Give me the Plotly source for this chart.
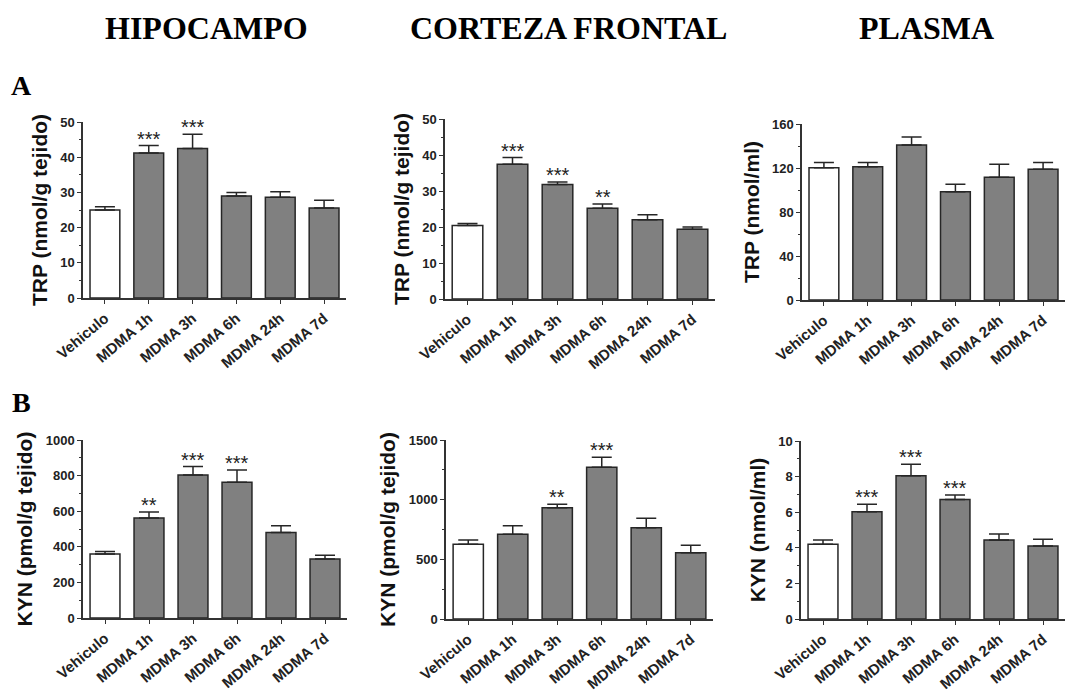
import plotly.graph_objects as go

W, H = 1065, 693

categories = ["Vehiculo", "MDMA 1h", "MDMA 3h", "MDMA 6h", "MDMA 24h", "MDMA 7d"]

hip_trp = [25.0, 41.2, 42.5, 29.0, 28.6, 25.6]
hip_trp_err = [0.9, 2.1, 4.0, 1.0, 1.6, 2.2]
hip_trp_sig = ["", "***", "***", "", "", ""]

cor_trp = [20.4, 37.4, 31.8, 25.2, 22.0, 19.4]
cor_trp_err = [0.6, 1.9, 0.7, 1.2, 1.4, 0.6]
cor_trp_sig = ["", "***", "***", "**", "", ""]

pla_trp = [120.3, 121.2, 140.9, 98.5, 111.6, 118.9]
pla_trp_err = [4.6, 3.7, 7.3, 6.7, 11.8, 6.0]
pla_trp_sig = ["", "", "", "", "", ""]

hip_kyn = [360, 562, 804, 763, 480, 331]
hip_kyn_err = [13, 34, 47, 69, 38, 22]
hip_kyn_sig = ["", "**", "***", "***", "", ""]

cor_kyn = [626, 710, 933, 1271, 765, 556]
cor_kyn_err = [36, 72, 28, 84, 79, 62]
cor_kyn_sig = ["", "", "**", "***", "", ""]

pla_kyn = [4.20, 6.03, 8.05, 6.72, 4.44, 4.10]
pla_kyn_err = [0.24, 0.41, 0.64, 0.25, 0.34, 0.38]
pla_kyn_sig = ["", "***", "***", "***", "", ""]

column_titles = ["HIPOCAMPO", "CORTEZA FRONTAL", "PLASMA"]
row_labels = ["A", "B"]

panels = [
    dict(v=hip_trp, e=hip_trp_err, s=hip_trp_sig, ymax=50, dt=10, mdt=5,
         title="TRP (nmol/g tejido)", xd=(83, 346), yd=(122, 298)),
    dict(v=cor_trp, e=cor_trp_err, s=cor_trp_sig, ymax=50, dt=10, mdt=5,
         title="TRP (nmol/g tejido)", xd=(445, 715), yd=(119, 299)),
    dict(v=pla_trp, e=pla_trp_err, s=pla_trp_sig, ymax=160, dt=40, mdt=20,
         title="TRP (nmol/ml)", xd=(802, 1065), yd=(124, 300)),
    dict(v=hip_kyn, e=hip_kyn_err, s=hip_kyn_sig, ymax=1000, dt=200, mdt=100,
         title="KYN (pmol/g tejido)", xd=(83, 347), yd=(440, 618)),
    dict(v=cor_kyn, e=cor_kyn_err, s=cor_kyn_sig, ymax=1500, dt=500, mdt=250,
         title="KYN (pmol/g tejido)", xd=(446, 713), yd=(440, 619)),
    dict(v=pla_kyn, e=pla_kyn_err, s=pla_kyn_sig, ymax=10, dt=2, mdt=1,
         title="KYN (nmol/ml)", xd=(801, 1065), yd=(441, 619)),
]

AX = "#333333"
FONT = "Liberation Sans, Arial, sans-serif"
fills = ["white"] + ["#808080"] * 5

fig = go.Figure()
annotations = []
layout_axes = {}

for i, p in enumerate(panels):
    n = i + 1
    xa = "x" if n == 1 else f"x{n}"
    ya = "y" if n == 1 else f"y{n}"
    fig.add_trace(go.Bar(
        x=categories, y=p["v"], xaxis=xa, yaxis=ya, width=0.68,
        marker=dict(color=fills, line=dict(color="#262626", width=1.5)),
        error_y=dict(type="data", array=p["e"], arrayminus=[0] * 6,
                     symmetric=False, color="#262626", thickness=1.5, width=10),
        showlegend=False, hoverinfo="skip",
    ))
    xdom = [p["xd"][0] / W, min(p["xd"][1] / W, 1.0)]
    ydom = [1 - p["yd"][1] / H, 1 - p["yd"][0] / H]
    xkey = "xaxis" if n == 1 else f"xaxis{n}"
    ykey = "yaxis" if n == 1 else f"yaxis{n}"
    layout_axes[xkey] = dict(
        domain=xdom, anchor=ya, type="category", range=[-0.5, 5.5],
        automargin=False,
        showline=True, linecolor=AX, linewidth=1.5, ticks="outside",
        ticklen=4, tickwidth=1.2, tickcolor=AX, tickangle=-40,
        tickfont=dict(family=FONT, size=15, color="#222222", weight="bold"),
        showgrid=False, zeroline=False, fixedrange=True,
    )
    layout_axes[ykey] = dict(
        domain=ydom, anchor=xa, range=[0, p["ymax"]], dtick=p["dt"], tick0=0,
        automargin=False,
        showline=True, linecolor=AX, linewidth=1.5, ticks="outside",
        ticklen=4, tickwidth=1.2, tickcolor=AX,
        minor=dict(dtick=p["mdt"], ticks="outside", ticklen=2, tickcolor=AX, tickwidth=1),
        tickfont=dict(family=FONT, size=13, color="#222222", weight="bold"),
        title=dict(text=p["title"], standoff=7,
                   font=dict(family=FONT, size=21, color="#111111", weight="bold")),
        showgrid=False, zeroline=False, fixedrange=True,
    )
    for c, v, e, s in zip(categories, p["v"], p["e"], p["s"]):
        if s:
            annotations.append(dict(
                x=c, y=v + e, xref=xa, yref=ya, text=s, showarrow=False,
                yanchor="middle", yshift=7,
                font=dict(family=FONT, size=20, color="#222222"),
            ))

title_x = [206, 568, 926]
for t, cx in zip(column_titles, title_x):
    annotations.append(dict(
        x=cx / W, y=1 - 28 / H, xref="paper", yref="paper", text=t,
        showarrow=False, xanchor="center", yanchor="middle",
        font=dict(family="Liberation Serif, Times New Roman, serif", size=32,
                  color="black", weight="bold"),
    ))
for lab, cy in zip(row_labels, [85, 402]):
    annotations.append(dict(
        x=21 / W, y=1 - cy / H, xref="paper", yref="paper", text=lab,
        showarrow=False, xanchor="center", yanchor="middle",
        font=dict(family="Liberation Serif, Times New Roman, serif", size=28,
                  color="black", weight="bold"),
    ))

fig.update_layout(
    width=W, height=H, margin=dict(l=0, r=0, t=0, b=0, autoexpand=False),
    paper_bgcolor="white", plot_bgcolor="white",
    bargap=0.3, annotations=annotations, **layout_axes,
)

fig.write_html("out.html", include_plotlyjs=True)
